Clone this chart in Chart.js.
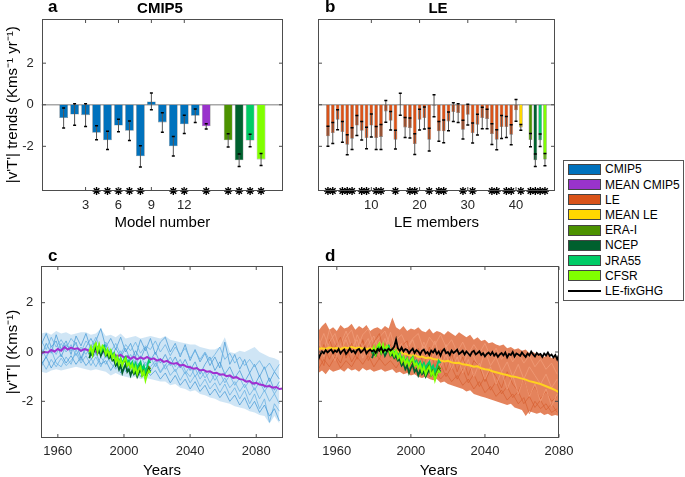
<!DOCTYPE html>
<html>
<head>
<meta charset="utf-8">
<script src="https://cdn.jsdelivr.net/npm/chart.js@4.4.1/dist/chart.umd.min.js"></script>
<style>
  body { margin: 0; background: #fff; }
  #fig { position: relative; width: 685px; height: 477px; overflow: hidden; font-family: "Liberation Sans", Arial, sans-serif; }
  #fig canvas { position: absolute; }
  .lbl { position: absolute; font-weight: bold; color: #000; line-height: 1; white-space: nowrap; }
  .ttl { position: absolute; font-weight: bold; font-size: 15px; line-height: 1; transform: translateX(-50%); }
  #legend { position: absolute; left: 563px; top: 160px; width: 119px; height: 139px; border: 1px solid #555; background: #fff; }
  #legend .sw { position: absolute; left: 4px; width: 33px; height: 11px; box-sizing: border-box; border: 1px solid #444; }
  #legend .ln { position: absolute; left: 4px; width: 33px; height: 2px; background: #000; }
  #legend .tx { position: absolute; left: 41px; font-size: 12px; line-height: 14px; white-space: nowrap; color: #000; }
</style>
</head>
<body>
<div id="fig">
  <canvas id="pa" width="300" height="250" style="left:0;top:0"></canvas>
  <canvas id="pb" width="260" height="250" style="left:300px;top:0"></canvas>
  <canvas id="pc" width="300" height="240" style="left:0;top:240px"></canvas>
  <canvas id="pd" width="285" height="240" style="left:300px;top:240px"></canvas>
  <div class="lbl" style="left:48px;top:-2px;font-size:17px">a</div>
  <div class="ttl" style="left:160px;top:0px">CMIP5</div>
  <div class="lbl" style="left:325px;top:-2px;font-size:17px">b</div>
  <div class="ttl" style="left:438px;top:0px">LE</div>
  <div class="lbl" style="left:48px;top:247px;font-size:17px">c</div>
  <div class="lbl" style="left:325px;top:247px;font-size:17px">d</div>
  <div id="legend"></div>
</div>
<script>
const CMIP_BLUE = '#0072BD', MEAN_CMIP = '#9933CC', LE_ORANGE = '#D95319', MEAN_LE = '#FFD700';
const ERA_C = '#4C9200', NCEP_C = '#00602E', JRA_C = '#00CC66', CFSR_C = '#80FF00';

// ---- panel a: trends per CMIP5 model, their mean, reanalyses
const modelX = [1, 2, 3, 4, 5, 6, 7, 8, 9, 10, 11, 12, 13, 14, 16, 17, 18, 19];
const modelTrend = [-0.64, -0.47, -0.50, -1.35, -1.71, -1.00, -1.25, -2.48, 0.16, -0.85, -2.00, -0.94, -0.53, -1.04, -1.71, -2.67, -1.72, -2.63];
const modelErr = [0.48, 0.52, 0.55, 0.34, 0.44, 0.30, 0.47, 0.51, 0.40, 0.47, 0.47, 0.44, 0.32, 0.13, 0.32, 0.30, 0.30, 0.29];
const modelStars = [4, 5, 6, 7, 8, 11, 12, 14, 16, 17, 18, 19];
const modelTicks = [3, 6, 9, 12];

// ---- panel b: trends per LE member, their mean, reanalyses
const leX = [1, 2, 3, 4, 5, 6, 7, 8, 9, 10, 11, 12, 13, 14, 15, 16, 17, 18, 19, 20,
  21, 22, 23, 24, 25, 26, 27, 28, 29, 30, 31, 32, 33, 34, 35, 36, 37, 38, 39, 40,
  41, 43, 44, 45, 46];
const leTrend = [-1.52, -1.36, -0.72, -1.31, -1.92, -1.63, -1.00, -1.25, -1.60, -1.00,
  -1.60, -1.55, -0.32, -0.77, -1.68, 0.02, -1.09, -1.12, -1.89, -0.72,
  -0.64, -1.68, -0.05, -1.28, -1.28, -0.80, -0.35, -0.40, -1.20, -0.48,
  -1.36, -0.96, -0.64, -0.69, -1.41, -1.68, -1.07, -1.07, -1.44, -0.27,
  -1.09, -1.70, -2.67, -1.71, -2.64];
const leErr = [0.48, 0.50, 0.48, 0.50, 0.48, 0.52, 0.48, 0.45, 0.52, 0.55,
  0.55, 0.60, 0.52, 0.45, 0.45, 0.53, 0.48, 0.48, 0.50, 0.50,
  0.53, 0.55, 0.53, 0.48, 0.55, 0.45, 0.45, 0.45, 0.45, 0.50,
  0.48, 0.50, 0.52, 0.47, 0.50, 0.48, 0.55, 0.50, 0.48, 0.52,
  0.14, 0.32, 0.30, 0.30, 0.29];
const leStars = [1, 2, 4, 5, 6, 8, 9, 11, 12, 15, 18, 19, 22, 24, 25, 29, 31, 35, 36, 38, 39, 41, 43, 44, 45, 46];
const leTicks = [10, 20, 30, 40];

const trendTicks = [-2, 0, 2];
const seriesTicks = [-2, 0, 2];
const yearTicks = [1960, 2000, 2040, 2080];

// ---- panel c: CMIP5 |v'T'| series (every 3 years 1950-2094, mean every 2 years 1950-2096)
const yrsC3 = Array.from({ length: 49 }, (_, i) => 1950 + 3 * i);
const yrsC2 = Array.from({ length: 74 }, (_, i) => 1950 + 2 * i);
const cmipTop = [0.75, 0.80, 0.70, 0.85, 0.75, 0.80, 0.70,
  0.75, 0.80, 0.80, 0.70, 0.75, 0.95, 0.65,
  0.70, 0.60, 0.75, 0.55, 0.60, 0.65, 0.55,
  0.60, 0.65, 0.60, 0.55, 0.65, 0.50, 0.45,
  0.40, 0.35, 0.30, 0.30, 0.20, 0.15, 0.10,
  0.10, 0.20, 0.60, 0.00, -0.05, 0.05, 0.00,
  0.10, 0.20, 0.00, -0.10, -0.20, -0.25, -0.35];
const cmipBottom = [-0.80, -0.85, -0.75, -0.70, -0.75, -0.70, -0.65,
  -0.60, -0.65, -0.70, -0.75, -0.70, -0.75, -0.80,
  -0.95, -0.85, -0.95, -1.00, -1.05, -1.00, -1.10,
  -1.05, -1.10, -1.15, -1.20, -1.20, -1.35, -1.30,
  -1.45, -1.50, -1.60, -1.55, -1.70, -1.75, -1.85,
  -1.90, -2.00, -2.05, -2.10, -2.20, -2.25, -2.30,
  -2.40, -2.45, -2.55, -2.60, -2.90, -2.60, -2.90];
const cmipRuns = [
  [0.45, 0.10, 0.60, 0.20, 0.50, 0.15, 0.55, 0.30, 0.00, 0.45, 0.20, 0.60, 0.10, 0.40,
   0.00, 0.35, -0.10, 0.30, 0.05, 0.40, -0.05, 0.25, 0.10, 0.45, 0.00, 0.30, -0.15, 0.20,
   -0.10, 0.15, -0.25, 0.05, -0.30, 0.00, -0.35, -0.10, 0.20, -0.30, -0.05, -0.45, -0.20, -0.55,
   -0.30, -0.60, -0.35, -0.70, -0.45, -0.80, -0.50],
  [-0.50, -0.20, -0.65, -0.30, -0.10, -0.45, -0.15, -0.50, -0.20, -0.55, -0.30, -0.05, -0.50, -0.35,
   -0.75, -0.40, -0.85, -0.55, -0.90, -0.60, -1.00, -0.70, -0.95, -0.75, -1.10, -0.85, -1.25, -0.95,
   -1.35, -1.10, -1.50, -1.20, -1.60, -1.35, -1.75, -1.50, -1.85, -1.60, -2.00, -1.75, -2.15, -1.85,
   -2.30, -2.00, -2.45, -2.15, -2.60, -2.30, -2.80],
  [0.15, -0.25, 0.25, -0.10, 0.35, 0.00, 0.30, -0.15, 0.20, -0.10, 0.30, -0.05, 0.20, -0.25,
   0.10, -0.30, 0.05, -0.45, -0.10, -0.50, -0.15, -0.55, -0.20, -0.60, -0.25, -0.70, -0.40, -0.80,
   -0.50, -0.90, -0.55, -1.00, -0.70, -1.05, -0.80, -1.15, -0.85, -1.25, -0.95, -1.35, -1.05, -1.45,
   -1.15, -1.55, -1.20, -1.60, -1.30, -1.70, -1.35],
  [-0.20, 0.35, -0.05, 0.70, 0.10, 0.45, -0.10, 0.65, 0.25, 0.75, 0.10, 0.45, 0.95, 0.20,
   0.55, 0.10, 0.60, 0.00, 0.35, -0.20, 0.50, 0.05, 0.55, -0.10, 0.40, 0.60, 0.00, 0.35,
   -0.20, 0.30, -0.35, 0.10, -0.40, -0.05, -0.55, -0.20, -0.65, 0.40, -0.50, -0.10, -0.70, -0.30,
   -0.85, -0.50, -1.00, -0.60, -1.20, -0.80, -1.10],
  [-0.35, -0.70, -0.30, -0.60, -0.25, -0.55, -0.35, -0.05, -0.45, -0.15, -0.55, -0.20, -0.60, -0.10,
   -0.45, -0.70, -0.35, -0.80, -0.45, -0.85, -0.50, -0.95, -0.60, -0.35, -0.80, -0.50, -0.95, -0.70,
   -1.15, -0.80, -1.25, -0.95, -1.40, -1.10, -1.50, -1.25, -1.65, -1.30, -1.75, -1.45, -1.90, -1.55,
   -2.10, -1.70, -2.30, -1.90, -2.85, -2.10, -2.40],
  [0.30, 0.75, 0.20, 0.45, -0.20, 0.30, 0.05, 0.40, -0.25, 0.20, 0.55, 0.15, -0.15, 0.30,
   -0.30, 0.15, -0.20, 0.15, -0.35, 0.05, -0.30, 0.20, -0.35, 0.00, -0.45, -0.10, -0.55, -0.20,
   -0.65, -0.30, -0.75, -0.40, -0.90, -0.50, -0.20, -0.75, -0.40, -0.90, -0.60, -1.05, -0.75, -1.20,
   -0.85, -1.35, -0.95, -1.45, -1.05, -1.55, -1.20],
  [-0.60, -0.15, 0.10, -0.45, -0.60, -0.20, -0.50, 0.10, -0.35, 0.15, -0.25, -0.60, -0.20, -0.50,
   -0.15, -0.55, -0.60, -0.20, -0.70, -0.30, -0.75, -0.40, -0.80, -0.45, -0.85, -0.55, -0.20, -0.60,
   -0.30, -0.75, -1.00, -0.65, -1.10, -0.80, -1.25, -0.90, -1.35, -1.05, -1.45, -1.20, -1.60, -1.30,
   -1.75, -1.45, -1.90, -1.55, -2.00, -1.70, -2.10]
];
const cmipMean = [-0.05, 0.00, -0.02, 0.08, 0.02, 0.12, 0.05, 0.20, 0.10, 0.18,
  0.12, 0.15, 0.05, 0.12, 0.08, 0.00, 0.05, -0.02, -0.05, 0.02,
  -0.08, -0.12, -0.08, -0.18, -0.12, -0.22, -0.18, -0.28, -0.20, -0.30,
  -0.22, -0.28, -0.20, -0.30, -0.26, -0.35, -0.30, -0.40, -0.36, -0.44,
  -0.48, -0.45, -0.55, -0.52, -0.60, -0.62, -0.68, -0.65, -0.75, -0.72,
  -0.80, -0.78, -0.86, -0.84, -0.92, -0.90, -0.98, -0.95, -1.05, -1.02,
  -1.10, -1.12, -1.20, -1.18, -1.28, -1.25, -1.32, -1.34, -1.40, -1.38,
  -1.45, -1.42, -1.50, -1.48];

// ---- reanalyses 1979-2016 (same in c and d)
const yrsRe = Array.from({ length: 38 }, (_, i) => 1979 + i);
const eraI = [-0.10, 0.05, -0.05, 0.15, 0.30, 0.05, 0.20, -0.05, 0.10, 0.20,
  -0.05, 0.05, -0.10, 0.00, -0.20, -0.10, -0.35, -0.25, -0.45, -0.30,
  -0.50, -0.40, -0.30, -0.55, -0.45, -0.60, -0.50, -0.70, -0.55, -0.75,
  -0.60, -0.50, -0.80, -0.70, -0.95, -0.75, -0.60, -0.70];
const ncep = [-0.25, -0.05, -0.15, 0.05, 0.20, -0.05, 0.10, -0.15, 0.00, 0.10,
  -0.15, -0.10, -0.25, -0.15, -0.35, -0.30, -0.55, -0.45, -0.70, -0.55,
  -0.85, -0.65, -0.50, -0.80, -0.70, -0.95, -0.75, -0.90, -0.80, -1.00,
  -0.85, -0.70, -0.95, -0.85, -1.05, -0.90, -0.70, -0.80];
const jra55 = [-0.05, 0.10, 0.00, 0.20, 0.30, 0.10, 0.25, 0.00, 0.15, 0.25,
  0.00, 0.10, -0.05, 0.05, -0.15, -0.05, -0.30, -0.20, -0.40, -0.25,
  -0.45, -0.30, -0.20, -0.45, -0.35, -0.55, -0.40, -0.60, -0.45, -0.65,
  -0.50, -0.40, -0.70, -0.55, -0.80, -0.60, -0.35, -0.45];
const cfsr = [0.00, 0.20, -0.10, 0.25, 0.35, 0.00, 0.30, 0.05, 0.25, 0.15,
  -0.10, 0.10, -0.15, 0.05, -0.25, -0.10, -0.40, -0.20, -0.50, -0.30,
  -0.55, -0.35, -0.25, -0.55, -0.45, -0.65, -0.50, -0.80, -0.60, -0.90,
  -0.70, -0.60, -0.95, -0.80, -1.15, -0.90, -0.75, -0.85];

// ---- panel d: LE series (band every 2 years, members every 3 years, fixGHG yearly)
const yrsD2 = Array.from({ length: 66 }, (_, i) => 1950 + 2 * i);
const yrsD3 = Array.from({ length: 44 }, (_, i) => 1950 + 3 * i);
const yrsD1 = Array.from({ length: 131 }, (_, i) => 1950 + i);
const leTop = [0.85, 1.05, 1.20, 0.90, 1.00, 0.85, 1.10, 0.95, 1.00, 1.15,
  0.90, 1.05, 0.95, 1.10, 0.85, 0.95, 1.00, 0.90, 1.05, 0.95,
  1.40, 1.00, 0.90, 1.05, 0.85, 0.95, 0.90, 1.00, 0.85, 0.80,
  0.95, 0.75, 0.85, 0.80, 0.70, 0.85, 0.75, 0.65, 0.80, 0.70,
  0.60, 0.70, 0.50, 0.60, 0.45, 0.50, 0.35, 0.40, 0.30, 0.25,
  0.30, 0.15, 0.20, 0.10, 0.15, 0.05, 0.10, -0.05, 0.00, -0.10,
  -0.05, -0.20, -0.10, -0.25, -0.20, -0.30];
const leBottom = [-0.85, -0.75, -0.90, -0.70, -0.80, -0.75, -0.70, -0.80, -0.65, -0.75,
  -0.70, -0.80, -0.65, -0.75, -0.70, -0.80, -0.75, -0.70, -0.80, -0.75,
  -0.70, -0.85, -0.80, -0.90, -0.85, -0.95, -0.90, -1.00, -1.05, -1.00,
  -1.10, -1.15, -1.10, -1.25, -1.20, -1.30, -1.35, -1.40, -1.45, -1.50,
  -1.60, -1.55, -1.70, -1.75, -1.80, -1.85, -1.90, -1.95, -2.00, -2.05,
  -2.10, -2.15, -2.10, -2.25, -2.30, -2.35, -2.60, -2.40, -2.45, -2.50,
  -2.45, -2.55, -2.50, -2.60, -2.55, -2.60];
const leRuns = [
  [0.60, -0.20, 0.40, 0.75, 0.00, 0.50, -0.10, 0.70, 0.20, 0.55, -0.20,
   0.45, 0.10, 0.80, 0.00, 0.35, -0.45, 0.10, -0.30, 0.25, -0.50, 0.05,
   -0.60, -0.10, -0.70, -0.20, -0.85, -0.30, -1.00, -0.45, -1.10, -0.60, -1.30,
   -0.80, -1.50, -0.95, -1.70, -1.05, -1.80, -1.30, -2.00, -1.50, -2.20, -1.70],
  [-0.40, 0.30, -0.30, 0.20, 0.60, -0.25, 0.35, -0.30, 0.50, -0.10, 0.40,
   0.75, -0.20, 0.30, -0.35, 0.25, 0.45, -0.50, 0.15, -0.55, 0.20, -0.60,
   0.10, -0.75, -0.05, -0.80, -0.20, -0.95, -0.35, -0.60, -1.20, -0.70, -1.00,
   -1.45, -0.80, -1.30, -1.60, -1.10, -1.75, -1.40, -1.90, -1.60, -2.00, -1.80],
  [0.20, 0.75, 0.10, -0.35, 0.30, 0.85, 0.20, 0.50, -0.25, 0.30, 0.65,
   0.00, 0.55, -0.10, 0.60, -0.15, 0.10, 0.50, -0.20, 0.40, -0.10, 0.45,
   -0.35, 0.30, -0.45, 0.15, -0.50, 0.00, -0.20, -0.70, 0.05, -0.55, -0.20,
   -0.80, -0.40, -1.00, -0.50, -1.10, -0.60, -0.95, -1.30, -0.90, -1.45, -1.10],
  [-0.10, -0.55, 0.50, -0.10, -0.45, 0.20, -0.40, 0.00, 0.45, -0.35, 0.10,
   -0.30, 0.35, -0.25, 0.20, -0.50, -0.10, -0.70, -0.30, -0.75, -0.45, -0.90,
   -0.50, -1.00, -0.60, -1.10, -0.70, -1.25, -0.90, -1.40, -1.00, -1.55, -1.20,
   -1.70, -1.40, -1.85, -1.60, -2.10, -1.80, -2.25, -1.95, -2.35, -2.10, -2.45],
  [0.35, 0.05, 0.90, 0.35, 0.10, 0.60, 0.90, 0.15, 0.70, 0.95, 0.30,
   0.60, 0.85, 0.20, 0.50, 0.70, 0.20, 0.55, 0.75, 0.05, 0.60, 0.30,
   0.70, 0.20, 0.50, 0.00, 0.40, -0.10, 0.30, -0.05, 0.35, -0.20, 0.15,
   -0.30, 0.05, -0.40, -0.05, -0.45, -0.15, -0.60, -0.30, -0.70, -0.45, -0.90],
  [-0.70, -0.30, -0.60, -0.20, -0.65, -0.35, -0.60, -0.20, -0.50, -0.15, -0.60,
   -0.25, -0.55, -0.35, -0.65, -0.30, -0.80, -0.45, -0.85, -0.55, -1.00, -0.70,
   -1.10, -0.85, -1.20, -0.95, -1.35, -1.10, -1.50, -1.20, -1.65, -1.40, -1.80,
   -1.55, -1.95, -1.70, -2.10, -1.85, -2.50, -2.00, -2.30, -2.10, -2.45, -2.30]
];
const leMean = [0.12, 0.15, 0.12, 0.18, 0.14, 0.16, 0.12, 0.18, 0.15, 0.20,
  0.15, 0.18, 0.14, 0.12, 0.15, 0.10, 0.12, 0.08, 0.10, 0.04,
  0.06, 0.00, 0.02, -0.06, -0.10, -0.15, -0.12, -0.20, -0.18, -0.25,
  -0.22, -0.28, -0.30, -0.34, -0.38, -0.36, -0.42, -0.45, -0.44, -0.50,
  -0.52, -0.55, -0.60, -0.58, -0.66, -0.70, -0.72, -0.78, -0.82, -0.86,
  -0.90, -0.93, -0.98, -1.00, -1.04, -1.08, -1.12, -1.18, -1.22, -1.26,
  -1.30, -1.36, -1.42, -1.48, -1.55, -1.64];
const fixGHG = [-0.30, -0.12, 0.02, -0.05, 0.08, -0.02, 0.05, 0.10, -0.04, 0.06,
  0.00, 0.12, -0.06, 0.04, 0.10, -0.08, 0.02, 0.14, 0.00, 0.06,
  -0.05, 0.08, 0.12, -0.02, 0.05, 0.15, -0.06, 0.04, 0.10, 0.02,
  0.08, -0.04, 0.12, 0.05, 0.18, 0.00, 0.10, 0.04, 0.14, 0.06,
  0.12, 0.22, 0.50, 0.15, 0.05, 0.18, 0.02, 0.12, 0.08, -0.05,
  0.06, 0.14, -0.04, 0.08, 0.02, -0.10, 0.05, 0.10, -0.06, 0.00,
  -0.12, 0.06, -0.02, 0.10, -0.08, 0.02, -0.15, 0.04, 0.12, -0.05,
  0.00, -0.12, 0.06, -0.04, 0.02, 0.10, -0.08, -0.02, 0.05, -0.10,
  0.02, -0.06, -0.15, 0.00, 0.05, -0.10, -0.04, 0.03, -0.12, -0.05,
  -0.18, -0.08, -0.02, -0.12, 0.00, -0.15, -0.06, -0.20, -0.10, -0.04,
  -0.14, -0.02, -0.22, -0.08, -0.12, 0.00, -0.18, -0.06, -0.10, -0.16,
  -0.02, -0.12, -0.20, -0.06, -0.14, 0.02, -0.10, -0.18, -0.04, -0.12,
  -0.08, -0.20, -0.06, -0.14, -0.02, -0.16, -0.10, -0.22, -0.12, -0.30,
  -0.10];

const legendNames = ['CMIP5', 'MEAN CMIP5', 'LE', 'MEAN LE', 'ERA-I', 'NCEP', 'JRA55', 'CFSR', 'LE-fixGHG'];
const legendColors = [CMIP_BLUE, MEAN_CMIP, LE_ORANGE, MEAN_LE, ERA_C, NCEP_C, JRA_C, CFSR_C, null];

Chart.defaults.font.family = '"Liberation Sans", Arial, sans-serif';
Chart.defaults.color = '#262626';

const pts = (xs, ys) => xs.map((x, i) => ({ x: x, y: ys[i] }));
const plainLabel = v => (v < 0 ? '-' : '') + Math.abs(v);

// frame with inward ticks on all four sides, like a matlab box
const boxPlugin = {
  id: 'box',
  afterDatasetsDraw(chart) {
    const { ctx, chartArea: a, scales: { x, y } } = chart;
    const l = Math.round(a.left) + 0.5, r = Math.round(a.right) - 0.5;
    const t = Math.round(a.top) + 0.5, b = Math.round(a.bottom) - 0.5;
    const len = 3.5;
    ctx.save();
    ctx.strokeStyle = '#4d4d4d';
    ctx.lineWidth = 1;
    ctx.strokeRect(l, t, r - l, b - t);
    ctx.beginPath();
    x.ticks.forEach(tk => {
      const px = x.getPixelForValue(tk.value);
      ctx.moveTo(px, b); ctx.lineTo(px, b - len);
      ctx.moveTo(px, t); ctx.lineTo(px, t + len);
    });
    y.ticks.forEach(tk => {
      const py = y.getPixelForValue(tk.value);
      ctx.moveTo(l, py); ctx.lineTo(l + len, py);
      ctx.moveTo(r, py); ctx.lineTo(r - len, py);
    });
    ctx.stroke();
    ctx.restore();
  }
};

const zeroLine = {
  id: 'zeroLine',
  beforeDatasetsDraw(chart) {
    const { ctx, chartArea: a, scales: { y } } = chart;
    const py = y.getPixelForValue(0);
    ctx.save();
    ctx.strokeStyle = '#a8a8a8';
    ctx.lineWidth = 1.5;
    ctx.beginPath();
    ctx.moveTo(a.left, py);
    ctx.lineTo(a.right, py);
    ctx.stroke();
    ctx.restore();
  }
};

function errorBars(xs, vals, errs) {
  return {
    id: 'errorBars',
    afterDatasetsDraw(chart) {
      const { ctx, scales: { x, y } } = chart;
      ctx.save();
      xs.forEach((v, i) => {
        const px = x.getPixelForValue(v);
        const y1 = y.getPixelForValue(vals[i] + errs[i]);
        const y2 = y.getPixelForValue(vals[i] - errs[i]);
        ctx.strokeStyle = '#555';
        ctx.lineWidth = 1;
        ctx.beginPath();
        ctx.moveTo(px, y1); ctx.lineTo(px, y2);
        ctx.stroke();
        ctx.strokeStyle = '#000';
        ctx.lineWidth = 1.5;
        ctx.beginPath();
        ctx.moveTo(px - 1.5, y1); ctx.lineTo(px + 1.5, y1);
        ctx.moveTo(px - 1.5, y2); ctx.lineTo(px + 1.5, y2);
        ctx.stroke();
      });
      ctx.restore();
    }
  };
}

function xAxis(min, max, ticks, title, height, tickPad, titlePad) {
  return {
    type: 'linear', min: min, max: max, offset: false,
    grid: { display: false, drawTicks: false, tickLength: 0 }, border: { display: false },
    ticks: { padding: tickPad, maxRotation: 0, autoSkip: false, color: '#262626', font: { size: 13 }, callback: plainLabel },
    afterBuildTicks: s => { s.ticks = ticks.map(v => ({ value: v })); },
    afterFit: s => { s.height = height; },
    title: { display: true, text: title, color: '#000', font: { size: 15 }, padding: { top: 0, bottom: titlePad } }
  };
}

function yAxis(min, max, ticks, title, width) {
  return {
    type: 'linear', min: min, max: max,
    grid: { display: false, drawTicks: false, tickLength: 0 }, border: { display: false },
    ticks: { display: !!title, padding: 8, color: '#262626', font: { size: 13 }, callback: plainLabel },
    afterBuildTicks: s => { s.ticks = ticks.map(v => ({ value: v })); },
    afterFit: s => { s.width = width; },
    title: { display: !!title, text: title || '', color: '#000', font: { size: 15 }, padding: { top: 3.5, bottom: 0 } }
  };
}

const baseOpts = {
  responsive: false,
  animation: false,
  devicePixelRatio: 1,
  plugins: { legend: { display: false }, tooltip: { enabled: false } }
};

function barPanel(id, xs, vals, errs, colors, stars, xMin, xMax, xTicks, xTitle, yTitle, yWidth, padRight) {
  new Chart(document.getElementById(id), {
    type: 'bar',
    data: {
      datasets: [
        {
          type: 'scatter',
          data: stars.map(x => ({ x: x, y: -4.15 })),
          pointStyle: 'star', pointRadius: 4, borderColor: '#000', borderWidth: 1.4,
          clip: false, order: 0
        },
        {
          data: pts(xs, vals),
          backgroundColor: colors,
          borderColor: 'rgba(40,40,40,0.55)',
          borderWidth: 0.6,
          barPercentage: 0.8,
          categoryPercentage: 1,
          order: 1
        }
      ]
    },
    options: Object.assign({}, baseOpts, {
      layout: { padding: { top: 18.5, right: padRight, left: 0, bottom: 0 } },
      scales: {
        x: xAxis(xMin, xMax, xTicks, xTitle, 59, 7, 18),
        y: yAxis(-4.15, 4.15, trendTicks, yTitle, yWidth)
      }
    }),
    plugins: [zeroLine, errorBars(xs, vals, errs), boxPlugin]
  });
}

const modelColors = modelX.map((x, i) => i < 13 ? CMIP_BLUE : [MEAN_CMIP, ERA_C, NCEP_C, JRA_C, CFSR_C][i - 13]);
barPanel('pa', modelX, modelTrend, modelErr, modelColors, modelStars, -1, 21, modelTicks,
  'Model number', "|v'T'| trends (Kms\u207B\u00B9 yr\u207B\u00B9)", 41.7, 17);

const leColors = leX.map((x, i) => i < 40 ? LE_ORANGE : [MEAN_LE, ERA_C, NCEP_C, JRA_C, CFSR_C][i - 40]);
barPanel('pb', leX, leTrend, leErr, leColors, leStars, -1, 48, leTicks,
  'LE members', null, 18.3, 1);

function line(xs, ys, color, width, order, extra) {
  return Object.assign({
    type: 'line', data: pts(xs, ys), borderColor: color, borderWidth: width,
    pointRadius: 0, tension: 0, fill: false, order: order
  }, extra || {});
}

function reanalysisLines() {
  return [
    line(yrsRe, eraI, ERA_C, 1.8, 4),
    line(yrsRe, ncep, NCEP_C, 1.8, 3),
    line(yrsRe, jra55, JRA_C, 1.8, 2),
    line(yrsRe, cfsr, CFSR_C, 1.8, 1)
  ];
}

// panel c
new Chart(document.getElementById('pc'), {
  type: 'line',
  data: {
    datasets: [
      line(yrsC3, cmipTop, 'rgba(0,0,0,0)', 0, 20),
      line(yrsC3, cmipBottom, 'rgba(0,0,0,0)', 0, 20, { fill: '-1', backgroundColor: 'rgba(95,168,222,0.3)' })
    ].concat(
      cmipRuns.map((r, i) => line(yrsC3, r, i % 2 ? 'rgba(74,155,214,0.85)' : 'rgba(110,180,228,0.9)', 0.9, 10)),
      [line(yrsC2, cmipMean, '#A030D0', 2, 5)],
      reanalysisLines()
    )
  },
  options: Object.assign({}, baseOpts, {
    layout: { padding: { top: 25.7, right: 17.3, left: 0, bottom: 0 } },
    scales: {
      x: xAxis(1950, 2096, yearTicks, 'Years', 41.7, 5.6, 0.5),
      y: yAxis(-3.5, 3.5, seriesTicks, "|v'T'| (Kms\u207B\u00B9)", 41.3)
    }
  }),
  plugins: [boxPlugin]
});

// panel d
new Chart(document.getElementById('pd'), {
  type: 'line',
  data: {
    datasets: [
      line(yrsD2, leTop, 'rgba(0,0,0,0)', 0, 20),
      line(yrsD2, leBottom, 'rgba(0,0,0,0)', 0, 20, { fill: '-1', backgroundColor: 'rgba(226,120,78,0.92)' })
    ].concat(
      leRuns.map((r, i) => line(yrsD3, r, i % 2 ? 'rgba(214,92,44,0.7)' : 'rgba(240,158,122,0.85)', 0.9, 10)),
      [line(yrsD2, leMean, '#FFD21F', 2, 5)],
      reanalysisLines(),
      [line(yrsD1, fixGHG, '#000', 1.8, 0)]
    )
  },
  options: Object.assign({}, baseOpts, {
    layout: { padding: { top: 25.7, right: 26, left: 0, bottom: 0 } },
    scales: {
      x: xAxis(1950, 2080, yearTicks, 'Years', 41.7, 5.6, 0.5),
      y: yAxis(-3.5, 3.5, seriesTicks, null, 18.3)
    }
  }),
  plugins: [boxPlugin]
});

// legend
const legend = document.getElementById('legend');
legendNames.forEach((name, i) => {
  const cy = 8.3 + 15.2 * i;
  if (legendColors[i]) {
    const sw = document.createElement('div');
    sw.className = 'sw';
    sw.style.top = (cy - 5.5) + 'px';
    sw.style.background = legendColors[i];
    legend.appendChild(sw);
  } else {
    const ln = document.createElement('div');
    ln.className = 'ln';
    ln.style.top = (cy - 1) + 'px';
    legend.appendChild(ln);
  }
  const tx = document.createElement('div');
  tx.className = 'tx';
  tx.style.top = (cy - 7) + 'px';
  tx.textContent = name;
  legend.appendChild(tx);
});
</script>
</body>
</html>
